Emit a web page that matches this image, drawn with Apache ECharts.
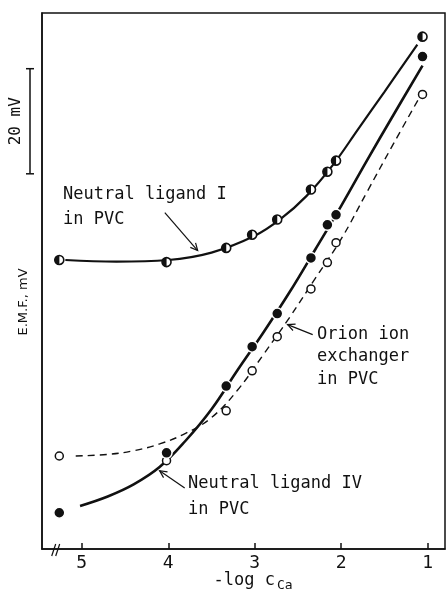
<!DOCTYPE html>
<html>
<head>
<meta charset="utf-8">
<script src="https://cdn.jsdelivr.net/npm/echarts@6/dist/echarts.min.js"></script>
<style>
  html, body { margin: 0; padding: 0; background: #fff; }
  #emf { width: 446px; height: 601px; }
</style>
</head>
<body>
<div id="emf"></div>
<script>
// -log c(Ca) of the measured points (the 5.26 column sits past the axis break)
const logCa = [5.26, 4.02, 3.33, 3.03, 2.74, 2.35, 2.16, 2.06, 1.06]
// E.M.F. readings, mV (arbitrary zero)
const ligandI = [55.0, 54.6, 57.3, 59.8, 62.7, 68.4, 71.8, 73.9, 97.5]
const ligandIV = [6.9, 18.3, 31.0, 38.5, 44.8, 55.4, 61.7, 63.6, 93.7]
const orion = [17.7, 16.8, 26.3, 33.9, 40.4, 49.5, 54.5, 58.3, 86.5]

// hand drawn calibration curves
const curveIx = [5.19, 4.6, 4.0, 3.5, 3.0, 2.7, 2.4, 2.1, 1.8, 1.5, 1.12]
const curveIy = [55.0, 54.7, 55.0, 56.4, 59.6, 62.8, 67.2, 73.0, 80.0, 87.0, 96.0]
const curveIVx = [5.02, 4.7, 4.4, 4.1, 3.8, 3.5, 3.2, 2.9, 2.6, 2.3, 2.0, 1.7, 1.4, 1.06]
const curveIVy = [8.2, 10.0, 12.3, 15.6, 20.6, 26.6, 34.0, 41.2, 48.8, 57.0, 65.3, 74.0, 82.5, 92.0]
const curveOx = [5.07, 4.7, 4.4, 4.1, 3.8, 3.5, 3.2, 2.9, 2.6, 2.3, 2.0, 1.7, 1.4, 1.11]
const curveOy = [17.7, 18.0, 18.7, 20.0, 22.0, 25.0, 30.2, 37.0, 44.0, 51.5, 59.0, 68.0, 77.0, 85.5]

const tickValues = [1, 2, 3, 4, 5]
const scaleBar = [71.4, 91.4] // 20 mV

const ink = '#111'
const mono = '"DejaVu Sans Mono", monospace'

let pairs = (xs, ys) => xs.map((x, i) => [x, ys[i]])

let chart = echarts.init(document.getElementById('emf'))

chart.setOption({
  animation: false,
  backgroundColor: '#fff',
  grid: {
    left: 42, right: 1, top: 13, bottom: 52,
    show: true, borderColor: ink, borderWidth: 1.5
  },
  xAxis: {
    type: 'value',
    inverse: true,
    min: 0.8,
    max: 5.46,
    axisLine: {lineStyle: {color: ink, width: 1.5}},
    axisTick: {inside: true, length: 6, customValues: tickValues, lineStyle: {color: ink, width: 1.5}},
    axisLabel: {customValues: tickValues, color: ink, fontSize: 18, fontFamily: mono, margin: 5},
    splitLine: {show: false}
  },
  yAxis: {
    type: 'value',
    min: 0,
    max: 102,
    axisLine: {show: true, lineStyle: {color: ink, width: 1.5}},
    axisTick: {show: false},
    axisLabel: {show: false},
    splitLine: {show: false}
  },
  series: [
    {
      type: 'line', smooth: 0.4, showSymbol: false, z: 2,
      lineStyle: {color: ink, width: 2.2},
      data: pairs(curveIx, curveIy)
    },
    {
      type: 'line', smooth: 0.4, showSymbol: false, z: 2,
      lineStyle: {color: ink, width: 2.6},
      data: pairs(curveIVx, curveIVy)
    },
    {
      type: 'line', smooth: 0.4, showSymbol: false, z: 2,
      lineStyle: {color: ink, width: 1.4, type: [7, 5]},
      data: pairs(curveOx, curveOy)
    },
    {
      // Orion ion exchanger: open circles
      type: 'scatter', symbol: 'circle', symbolSize: 8, z: 3,
      itemStyle: {color: '#fff', borderColor: ink, borderWidth: 1.5, opacity: 1},
      data: pairs(logCa, orion)
    },
    {
      // neutral ligand IV: filled circles
      type: 'scatter', symbol: 'circle', symbolSize: 11, z: 3,
      itemStyle: {color: ink, borderColor: '#fff', borderWidth: 1.5, opacity: 1},
      data: pairs(logCa, ligandIV)
    },
    {
      // neutral ligand I: half filled circles
      type: 'scatter', symbol: 'circle', symbolSize: 9, z: 3,
      itemStyle: {color: '#fff', borderColor: ink, borderWidth: 1.6, opacity: 1},
      data: pairs(logCa, ligandI)
    },
    {
      type: 'scatter', symbol: 'path://M10,0 A10,10 0 0,0 10,20 Z',
      symbolSize: [4.5, 9], symbolOffset: [-2.2, 0], z: 4,
      itemStyle: {color: ink, opacity: 1},
      data: pairs(logCa, ligandI)
    }
  ]
})

// annotations: text and arrows, anchored in data units
let px = (p) => chart.convertToPixel({gridIndex: 0}, p)

let arrows = [
  {from: [4.04, 64.0], to: [3.66, 56.8]},
  {from: [2.33, 40.8], to: [2.62, 42.7]},
  {from: [3.81, 11.6], to: [4.10, 14.9]}
]

let labels = [
  {text: 'Neutral ligand I', x: 63, y: 195},
  {text: 'in PVC', x: 63, y: 220},
  {text: 'Orion ion', x: 317, y: 335},
  {text: 'exchanger', x: 317, y: 357},
  {text: 'in PVC', x: 317, y: 380},
  {text: 'Neutral ligand IV', x: 188, y: 484},
  {text: 'in PVC', x: 188, y: 510}
]

let graphic = []

labels.forEach(l => {
  graphic.push({
    type: 'text', x: l.x, y: l.y,
    style: {text: l.text, fill: ink, font: '17px ' + mono, verticalAlign: 'middle'}
  })
})

arrows.forEach(a => {
  let p0 = px(a.from), p1 = px(a.to)
  let ang = Math.atan2(p1[1] - p0[1], p1[0] - p0[0])
  let h = 8, w = 0.45
  graphic.push({
    type: 'line',
    shape: {x1: p0[0], y1: p0[1], x2: p1[0], y2: p1[1]},
    style: {stroke: ink, lineWidth: 1.2}
  })
  graphic.push({
    type: 'polyline',
    shape: {points: [
      [p1[0] - h * Math.cos(ang - w), p1[1] - h * Math.sin(ang - w)],
      [p1[0], p1[1]],
      [p1[0] - h * Math.cos(ang + w), p1[1] - h * Math.sin(ang + w)]
    ]},
    style: {stroke: ink, lineWidth: 1.2, fill: null}
  })
})

// 20 mV scale bar
let sTop = px([5.46, scaleBar[1]])[1]
let sBot = px([5.46, scaleBar[0]])[1]
graphic.push({type: 'line', shape: {x1: 30, y1: sTop, x2: 30, y2: sBot}, style: {stroke: ink, lineWidth: 1.5}})
graphic.push({type: 'line', shape: {x1: 26, y1: sTop, x2: 34, y2: sTop}, style: {stroke: ink, lineWidth: 1.5}})
graphic.push({type: 'line', shape: {x1: 26, y1: sBot, x2: 34, y2: sBot}, style: {stroke: ink, lineWidth: 1.5}})
graphic.push({
  type: 'text', x: 16, y: (sTop + sBot) / 2, rotation: Math.PI / 2,
  style: {text: '20 mV', fill: ink, font: '16px ' + mono, align: 'center', verticalAlign: 'middle'}
})

// y axis name
graphic.push({
  type: 'text', x: 24, y: 302, rotation: Math.PI / 2,
  style: {text: 'E.M.F., mV', fill: ink, font: '13px "DejaVu Sans"', align: 'center', verticalAlign: 'middle'}
})

// x axis name with subscript
graphic.push({
  type: 'text', x: 253, y: 581,
  style: {
    text: '{m|-log c}{s|Ca}',
    align: 'center', verticalAlign: 'middle',
    rich: {
      m: {fill: ink, font: '17px ' + mono},
      s: {fill: ink, font: '13px ' + mono, padding: [10, 0, 0, 2]}
    }
  }
})

// axis break mark
let b = px([5.29, 0])
graphic.push({type: 'line', shape: {x1: b[0] - 5, y1: b[1] + 7, x2: b[0] - 1, y2: b[1] - 5}, style: {stroke: ink, lineWidth: 1.2}})
graphic.push({type: 'line', shape: {x1: b[0] - 1, y1: b[1] + 7, x2: b[0] + 3, y2: b[1] - 5}, style: {stroke: ink, lineWidth: 1.2}})

chart.setOption({graphic: graphic})
</script>
</body>
</html>
